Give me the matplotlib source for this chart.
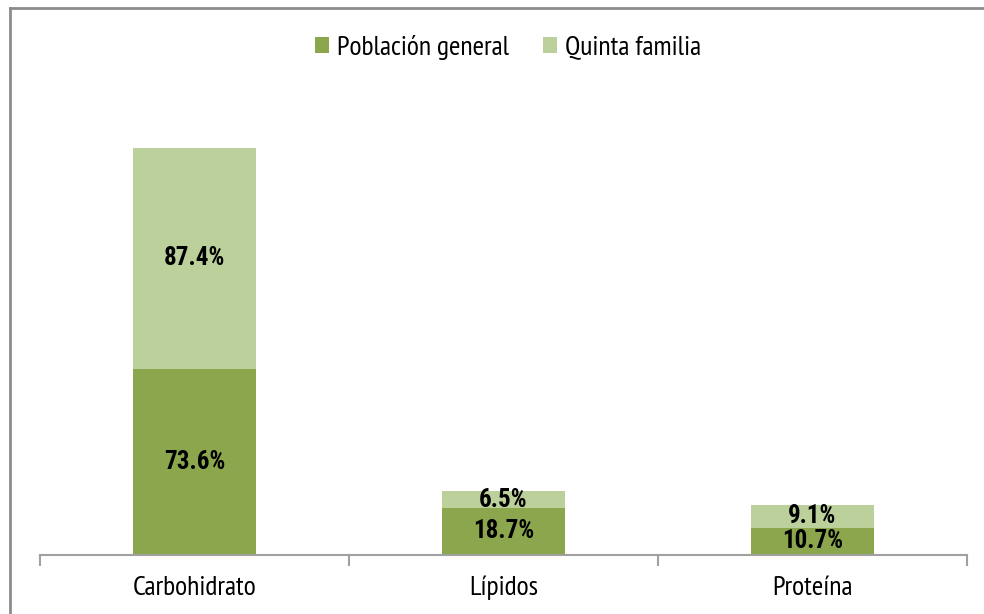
import matplotlib
matplotlib.use("Agg")
import matplotlib.pyplot as plt
from matplotlib.lines import Line2D
from matplotlib import font_manager

categories = ["Carbohidrato", "Lípidos", "Proteína"]
poblacion_general = [73.6, 18.7, 10.7]
quinta_familia = [87.4, 6.5, 9.1]
labels_general = ["73.6%", "18.7%", "10.7%"]
labels_quinta = ["87.4%", "6.5%", "9.1%"]
series_names = ["Población general", "Quinta familia"]

avail = {f.name for f in font_manager.fontManager.ttflist}
fam_reg = [f for f in ["PT Sans Narrow", "Roboto Condensed", "Liberation Sans"] if f in avail] + ["DejaVu Sans"]
fam_bold = [f for f in ["Roboto Condensed", "PT Sans Narrow", "Liberation Sans"] if f in avail] + ["DejaVu Sans"]
plt.rcParams["font.family"] = fam_reg

dark = "#8BA64D"
light = "#BBD09A"

W, H = 984, 614
fig = plt.figure(figsize=(W / 100, H / 100), dpi=100)
ax = fig.add_axes([40 / W, (H - 555) / H, (967 - 40) / W, (555 - 100) / H])

x = list(range(len(categories)))
b1 = ax.bar(x, poblacion_general, width=0.4, color=dark, zorder=2)
b2 = ax.bar(x, quinta_familia, width=0.4, bottom=poblacion_general, color=light, zorder=2)

for i in x:
    ax.text(i, poblacion_general[i] / 2, labels_general[i], ha="center", va="center",
            fontsize=18, fontweight="bold", color="black", zorder=3, family=fam_bold)
    ax.text(i, poblacion_general[i] + quinta_familia[i] / 2, labels_quinta[i], ha="center",
            va="center", fontsize=18, fontweight="bold", color="black", zorder=3, family=fam_bold)

ax.set_xlim(-0.5, len(categories) - 0.5)
ax.set_ylim(0, 180)
ax.set_yticks([])
for s in ["left", "right", "top"]:
    ax.spines[s].set_visible(False)
ax.spines["bottom"].set_color("#A0A0A0")
ax.spines["bottom"].set_linewidth(1.5)
ax.set_xticks([-0.5, 0.5, 1.5, 2.5])
ax.set_xticklabels([])
ax.tick_params(axis="x", length=8, width=1.5, color="#A0A0A0", direction="out")
ax.set_xticks(x, minor=True)
ax.set_xticklabels(categories, minor=True, fontsize=20)
ax.tick_params(axis="x", which="minor", length=0, pad=15)

leg = fig.legend([b1, b2], series_names, loc="center", bbox_to_anchor=(508 / W, (H - 47) / H),
                 ncol=2, frameon=False, fontsize=20, handlelength=0.5, handleheight=0.5,
                 handletextpad=0.3, columnspacing=1.2)

fig.add_artist(Line2D([10 / W, 10 / W], [0, (H - 8) / H], transform=fig.transFigure,
                      color="#8C8C8C", linewidth=2))
fig.add_artist(Line2D([10 / W, 1], [(H - 8) / H, (H - 8) / H], transform=fig.transFigure,
                      color="#8C8C8C", linewidth=2))

fig.savefig("out.png", dpi=100, facecolor="white")
